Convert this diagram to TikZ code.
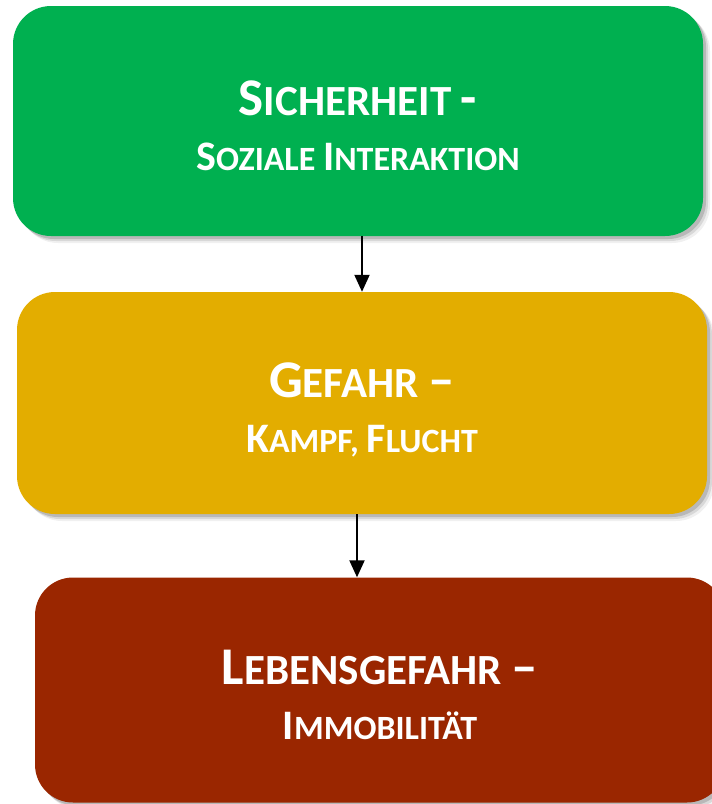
\documentclass[tikz,border=0pt]{standalone}
\usepackage{fontspec}
\setmainfont{Carlito}
\usetikzlibrary{arrows.meta,shadows}
\definecolor{safegreen}{HTML}{00B050}
\definecolor{dangeramber}{HTML}{E3AD00}
\definecolor{lifered}{HTML}{9A2600}
\newcommand{\headcap}[1]{{\fontsize{53pt}{60pt}\selectfont #1}}
\newcommand{\subcap}[1]{{\fontsize{42pt}{50pt}\selectfont #1}}
\newcommand{\headline}[1]{{\fontsize{43pt}{55pt}\selectfont #1}}
\newcommand{\subline}[1]{{\fontsize{34pt}{55pt}\selectfont #1}}
\begin{document}
\begin{tikzpicture}[x=1pt, y=-1pt,
    stage/.style={rounded corners=38pt, minimum width=690pt, inner sep=0pt,
      text=white, font=\bfseries\fontsize{34pt}{55pt}\selectfont, align=center,
      text height=98pt, text depth=0pt,
      drop shadow={shadow xshift=7pt, shadow yshift=-7pt, fill=black, opacity=.06},
      drop shadow={shadow xshift=5pt, shadow yshift=-5pt, fill=black, opacity=.1},
      drop shadow={shadow xshift=3pt, shadow yshift=-3pt, fill=black, opacity=.15}},
    flow/.style={-{Triangle[width=15pt,length=17pt]}, line width=2pt}]
          \useasboundingbox (0,0) rectangle (712,804);
          \node [stage, fill=safegreen, minimum height=230pt] (safe) at (358,121)
            {\headline{\headcap{S}ICHERHEIT \headcap{-}}\\\subline{\subcap{S}OZIALE \subcap{I}NTERAKTION}};
          \node [stage, fill=dangeramber, minimum height=222pt] (danger) at (362,403)
            {\headline{\headcap{G}EFAHR \headcap{–}}\\\subline{\subcap{K}AMPF, \subcap{F}LUCHT}};
          \node [stage, fill=lifered, minimum height=225pt] (life) at (380,690)
            {\headline{\headcap{L}EBENSGEFAHR \headcap{–}}\\\subline{\subcap{I}MMOBILITÄT}};
          \draw [flow] (safe.south -| danger.north) -- (danger.north);
          \draw [flow] ([xshift=-5pt]danger.south) -- ([xshift=-5pt]danger.south |- life.north);
        \end{tikzpicture}
\end{document}
